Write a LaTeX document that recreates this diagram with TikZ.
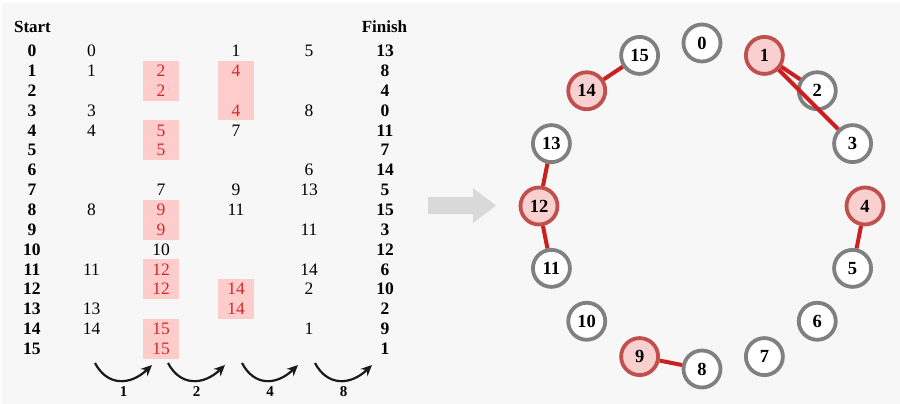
\documentclass[tikz,border=0pt]{standalone}
\usepackage{fontspec}
\setmainfont{Liberation Serif}
\usetikzlibrary{arrows.meta}
\definecolor{bgc}{HTML}{F7F7F7}
\definecolor{redtxt}{HTML}{D62728}
\definecolor{pinkbox}{HTML}{FFCCCC}
\definecolor{nodegray}{HTML}{808080}
\definecolor{hifill}{HTML}{F8D0D0}
\definecolor{histroke}{HTML}{C0504D}
\definecolor{edgered}{HTML}{CC2020}
\definecolor{bigarrow}{HTML}{D9D9D9}
\tikzset{
  cell/.style={inner sep=0pt, font=\fontsize{17.5}{18}\selectfont},
  bcell/.style={cell, font=\fontsize{17.5}{18}\selectfont\bfseries},
  rcell/.style={cell, text=redtxt},
  hdr/.style={inner sep=0pt, font=\fontsize{17}{18}\selectfont\bfseries},
  ring/.style={circle, draw=nodegray, fill=white, line width=3.8pt, minimum size=37pt, inner sep=0pt, font=\fontsize{18.5}{18}\selectfont\bfseries},
  hiring/.style={ring, draw=histroke, fill=hifill},
  redge/.style={draw=edgered, line width=4pt},
  swap/.style={-{Stealth[length=11pt,width=10pt]}, line width=2.2pt, black!90},
  steplbl/.style={inner sep=0pt, font=\fontsize{15}{15}\selectfont\bfseries},
  hibox/.style={fill=pinkbox, draw=none}
}
\begin{document}
\begin{tikzpicture}[x=1pt,y=-1pt]
\useasboundingbox (0,0) rectangle (900,404);
\fill[white] (0,0) rectangle (900,404);
\fill[bgc] (2,3) rectangle (900,404);
% highlight boxes
\fill[hibox] (143,{51+19.85*1-9.925}) rectangle (179,{51+19.85*2+9.925});
\fill[hibox] (143,{51+19.85*4-9.925}) rectangle (179,{51+19.85*5+9.925});
\fill[hibox] (143,{51+19.85*8-9.925}) rectangle (179,{51+19.85*9+9.925});
\fill[hibox] (143,{51+19.85*11-9.925}) rectangle (179,{51+19.85*12+9.925});
\fill[hibox] (143,{51+19.85*14-9.925}) rectangle (179,{51+19.85*15+9.925});
\fill[hibox] (218,{51+19.85*1-9.925}) rectangle (254,{51+19.85*3+9.925});
\fill[hibox] (218,{51+19.85*12-9.925}) rectangle (254,{51+19.85*13+9.925});
% headers
\node[hdr] (start) at (32.5,26.5) {Start};
\node[hdr] (finish) at (384.5,26.5) {Finish};
% start column
\foreach \i in {0,...,15} {
  \node[bcell] (s\i) at (32,{51+19.85*\i}) {\i};
}
% finish column
\foreach \v [count=\k from 0] in {13,8,4,0,11,7,14,5,15,3,12,6,10,2,9,1} {
  \node[bcell] (f\k) at (385,{51+19.85*\k}) {\v};
}
% column 1
\foreach \r/\v in {0/0,1/1,3/3,4/4,8/8,11/11,13/13,14/14} {
  \node[cell] (a\r) at (91.5,{51+19.85*\r}) {\v};
}
% column 2
\foreach \r/\v in {7/7,10/10} {
  \node[cell] (b\r) at (161,{51+19.85*\r}) {\v};
}
\foreach \r/\v in {1/2,2/2,4/5,5/5,8/9,9/9,11/12,12/12,14/15,15/15} {
  \node[rcell] (b\r) at (161,{51+19.85*\r}) {\v};
}
% column 3
\foreach \r/\v in {0/1,4/7,7/9,8/11} {
  \node[cell] (c\r) at (236,{51+19.85*\r}) {\v};
}
\foreach \r/\v in {1/4,3/4,12/14,13/14} {
  \node[rcell] (c\r) at (236,{51+19.85*\r}) {\v};
}
% column 4
\foreach \r/\v in {0/5,3/8,6/6,7/13,9/11,11/14,12/2,14/1} {
  \node[cell] (d\r) at (309,{51+19.85*\r}) {\v};
}
% step arrows
\foreach \n/\xa/\xb/\lab in {1/95/152/1, 2/168/225/2, 3/242/298/4, 4/315/372/8} {
  \coordinate (p\n) at (\xa,363);
  \coordinate (q\n) at (\xb,365);
  \draw[swap] (p\n) .. controls ({\xa+12},386) and ({\xb-22},386) .. (q\n);
  \node[steplbl] (l\n) at ({(\xa+\xb)/2},392) {\lab};
}
% big arrow
\fill[bigarrow] (428,197) -- (473,197) -- (473,188) -- (496,205.5) -- (473,223) -- (473,214) -- (428,214) -- cycle;
% ring nodes
\foreach \k in {0,...,15} {
  \pgfmathsetmacro{\ang}{90-22.5*\k}
  \ifnum\k=1 \def\st{hiring}\else\ifnum\k=4 \def\st{hiring}\else\ifnum\k=9 \def\st{hiring}\else\ifnum\k=12 \def\st{hiring}\else\ifnum\k=14 \def\st{hiring}\else\def\st{ring}\fi\fi\fi\fi\fi
  \node[\st] (n\k) at ({702+163*cos(\ang)},{206-163*sin(\ang)}) {\k};
}
% red edges
\draw[redge] (n14) -- (n15);
\draw[redge] (n12) -- (n13);
\draw[redge] (n12) -- (n11);
\draw[redge] (n1) -- (n2);
\draw[redge] (n1) -- (n3);
\draw[redge] (n4) -- (n5);
\draw[redge] (n9) -- (n8);
\end{tikzpicture}
\end{document}
